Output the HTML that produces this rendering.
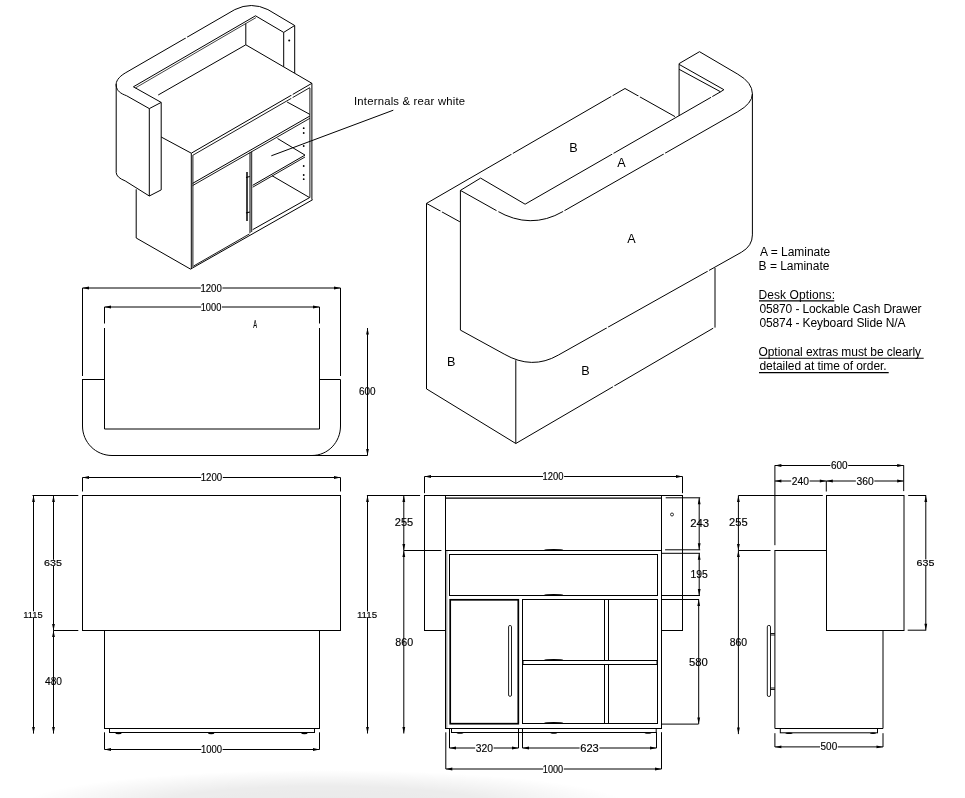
<!DOCTYPE html>
<html><head><meta charset="utf-8"><style>
html,body{margin:0;padding:0;background:#fff;}
body{width:965px;height:798px;overflow:hidden;position:relative;}
svg{position:absolute;left:0;top:0;}
text{font-family:"Liberation Sans",sans-serif;fill:#000;}
.dim{stroke:#000;stroke-width:0.15px;}
svg{will-change:transform;}
.shadow{position:absolute;left:20px;top:760px;width:610px;height:70px;
background:radial-gradient(ellipse 305px 36px at 305px 46px, rgba(0,0,0,0.085) 0%, rgba(0,0,0,0.075) 55%, rgba(0,0,0,0) 100%);}
</style></head><body>
<div class="shadow"></div>
<svg width="965" height="798" viewBox="0 0 965 798">
<path d="M125.2,73 L234.8,9.6 Q251.3,1.4 267.9,9.6 L294.7,25.5 L294.7,73" fill="none" stroke="#000" stroke-width="1"/>
<path d="M125.2,73 C118.5,77 115.5,81.5 116.2,86 C117,91 120.5,93.5 126.5,95.7 L149.3,108.6" fill="none" stroke="#000" stroke-width="1"/>
<path d="M116.2,84 L116.2,172.6 Q116.5,177.5 125.2,180.9 L149.3,196" fill="none" stroke="#000" stroke-width="1"/>
<polyline points="149.3,108.6 161.2,102.4 161.2,189.9 149.3,196 149.3,108.6" fill="none" stroke="#000" stroke-width="1"/>
<line x1="133.4" y1="86.8" x2="161.2" y2="102.4" stroke="#000" stroke-width="1" />
<line x1="133.4" y1="86.8" x2="255.5" y2="15.8" stroke="#000" stroke-width="1" />
<line x1="135.0" y1="88.2" x2="256.0" y2="17.6" stroke="#444" stroke-width="1" />
<line x1="158.2" y1="95" x2="245.8" y2="44.8" stroke="#000" stroke-width="1" />
<line x1="245.8" y1="23.5" x2="245.8" y2="44.8" stroke="#000" stroke-width="1" />
<polyline points="255.5,15.8 283.7,32.4 283.7,66.8" fill="none" stroke="#000" stroke-width="1"/>
<line x1="283.7" y1="32.4" x2="294.7" y2="25.5" stroke="#000" stroke-width="1" />
<line x1="245.8" y1="44.8" x2="311.9" y2="83.3" stroke="#000" stroke-width="1" />
<circle cx="289.2" cy="40.6" r="1" fill="#000"/>
<line x1="161.2" y1="137.0" x2="191.3" y2="153.2" stroke="#000" stroke-width="1" />
<line x1="191.3" y1="153.2" x2="311.9" y2="83.3" stroke="#000" stroke-width="1" />
<line x1="192.6" y1="155.4" x2="309.9" y2="87.6" stroke="#000" stroke-width="0.9" />
<line x1="311.9" y1="83.3" x2="311.9" y2="199.7" stroke="#000" stroke-width="1" />
<line x1="309.9" y1="88" x2="309.9" y2="197.6" stroke="#000" stroke-width="0.9" />
<line x1="191.3" y1="153.2" x2="191.3" y2="269.1" stroke="#000" stroke-width="1" />
<line x1="192.9" y1="155.4" x2="192.9" y2="267" stroke="#000" stroke-width="0.9" />
<line x1="190.5" y1="269.1" x2="312.7" y2="199.7" stroke="#000" stroke-width="1" />
<line x1="193.6" y1="266" x2="249.5" y2="233.9" stroke="#000" stroke-width="0.9" />
<line x1="192.6" y1="183.4" x2="309.9" y2="116.0" stroke="#000" stroke-width="1" />
<line x1="192.6" y1="185.6" x2="309.9" y2="118.3" stroke="#000" stroke-width="0.9" />
<line x1="287.1" y1="102" x2="309.9" y2="114.4" stroke="#000" stroke-width="1" />
<line x1="250.0" y1="152.5" x2="250.0" y2="233.0" stroke="#000" stroke-width="1" />
<line x1="251.7" y1="151.5" x2="251.7" y2="232.0" stroke="#000" stroke-width="0.9" />
<line x1="277.5" y1="138.5" x2="305" y2="155.1" stroke="#000" stroke-width="1" />
<line x1="305" y1="155.1" x2="252.7" y2="185.3" stroke="#000" stroke-width="1" />
<line x1="305" y1="157.0" x2="252.7" y2="187.2" stroke="#000" stroke-width="0.9" />
<line x1="272" y1="175.7" x2="309.6" y2="197.6" stroke="#000" stroke-width="1" />
<line x1="252.6" y1="229.7" x2="309.6" y2="197.6" stroke="#000" stroke-width="1" />
<path d="M247.0,172 L247.0,221" fill="none" stroke="#000" stroke-width="1.5"/>
<line x1="246" y1="177.5" x2="249.8" y2="176.5" stroke="#000" stroke-width="1.2" />
<line x1="246" y1="213" x2="249.8" y2="212" stroke="#000" stroke-width="1.2" />
<circle cx="303.7" cy="128.2" r="0.9" fill="#000"/>
<circle cx="303.7" cy="133" r="0.9" fill="#000"/>
<circle cx="303.7" cy="146" r="0.9" fill="#000"/>
<circle cx="303.7" cy="166" r="0.9" fill="#000"/>
<circle cx="303.7" cy="175" r="0.9" fill="#000"/>
<circle cx="303.7" cy="179.2" r="0.9" fill="#000"/>
<polyline points="136.2,189.3 136.2,238 190.5,269.1" fill="none" stroke="#000" stroke-width="1"/>
<line x1="393.3" y1="110.2" x2="271.3" y2="155.8" stroke="#000" stroke-width="1" />
<line x1="426.5" y1="203.4" x2="426.5" y2="389.2" stroke="#000" stroke-width="1" />
<line x1="426.5" y1="203.4" x2="625" y2="88.5" stroke="#000" stroke-width="1" />
<line x1="625" y1="88.5" x2="675" y2="116.6" stroke="#000" stroke-width="1" />
<line x1="426.5" y1="203.4" x2="459.9" y2="221.8" stroke="#000" stroke-width="1" />
<line x1="460.4" y1="190.4" x2="460.4" y2="330.1" stroke="#000" stroke-width="1" />
<polyline points="460.4,190.4 480.6,178.1 525.1,204.2 720.6,91.8" fill="none" stroke="#000" stroke-width="1"/>
<line x1="679.1" y1="64.4" x2="723.9" y2="89.7" stroke="#000" stroke-width="1" />
<line x1="679.1" y1="69.3" x2="720.6" y2="91.8" stroke="#000" stroke-width="1" />
<line x1="723.9" y1="89.7" x2="720.6" y2="91.8" stroke="#000" stroke-width="1" />
<line x1="679.1" y1="63.6" x2="679.1" y2="115.8" stroke="#000" stroke-width="1" />
<line x1="679.1" y1="63.6" x2="699.5" y2="51.7" stroke="#000" stroke-width="1" />
<path d="M699.5,51.7 L737.8,74.2 Q752.4,82.6 752.4,93.8 L752.4,234.9 Q752.4,245.9 741.5,252.2 L558.3,355.1 Q532.1,370.2 504.2,354.1 L460.4,330.1" fill="none" stroke="#000" stroke-width="1"/>
<path d="M460.4,190.4 L496.6,210.7 Q530.5,230.3 563,211.5 L737.8,111.7 Q752.4,103.3 752.4,93.8" fill="none" stroke="#000" stroke-width="1"/>
<line x1="515.8" y1="360.2" x2="515.8" y2="443.5" stroke="#000" stroke-width="1" />
<line x1="427" y1="389.2" x2="515.8" y2="443.5" stroke="#000" stroke-width="1" />
<line x1="515.8" y1="443.5" x2="713.2" y2="328.2" stroke="#000" stroke-width="1" />
<line x1="715" y1="268" x2="715" y2="327.6" stroke="#000" stroke-width="1" />
<line x1="759" y1="300.9" x2="834.3" y2="300.9" stroke="#000" stroke-width="1.1" />
<line x1="759" y1="358.3" x2="923.7" y2="358.3" stroke="#000" stroke-width="1.1" />
<line x1="759" y1="372.6" x2="888.7" y2="372.6" stroke="#000" stroke-width="1.1" />
<line x1="82.5" y1="288" x2="82.5" y2="376" stroke="#000" stroke-width="1" />
<line x1="340.5" y1="288" x2="340.5" y2="376" stroke="#000" stroke-width="1" />
<line x1="82.5" y1="288" x2="200.8" y2="288" stroke="#000" stroke-width="1" />
<line x1="222.4" y1="288" x2="340.5" y2="288" stroke="#000" stroke-width="1" />
<polygon points="82.5,288 89.0,286.6 89.0,289.4" fill="#000" stroke="none"/>
<polygon points="340.5,288 334.0,289.4 334.0,286.6" fill="#000" stroke="none"/>
<line x1="104.5" y1="307" x2="104.5" y2="323.5" stroke="#000" stroke-width="1" />
<line x1="319.5" y1="307" x2="319.5" y2="323.5" stroke="#000" stroke-width="1" />
<line x1="104.5" y1="307" x2="201.1" y2="307" stroke="#000" stroke-width="1" />
<line x1="221.9" y1="307" x2="319.5" y2="307" stroke="#000" stroke-width="1" />
<polygon points="104.5,307 111.0,305.6 111.0,308.4" fill="#000" stroke="none"/>
<polygon points="319.5,307 313.0,308.4 313.0,305.6" fill="#000" stroke="none"/>
<path d="M82,379.5 L104.5,379.5 M104.5,328 L104.5,429 L319.5,429 L319.5,328 M319.5,379.5 L340.5,379.5" fill="none" stroke="#000" stroke-width="1"/>
<path d="M82.5,379.5 L82.5,426 C82.5,442.3 95.7,455.5 112,455.5 L312,455.5 C327.8,455.5 340.5,442.3 340.5,426 L340.5,379.5" fill="none" stroke="#000" stroke-width="1"/>
<line x1="312" y1="455.5" x2="367.5" y2="455.5" stroke="#000" stroke-width="1" />
<line x1="367.5" y1="328" x2="367.5" y2="455.5" stroke="#000" stroke-width="1" />
<polygon points="367.5,328 368.9,334.5 366.1,334.5" fill="#000" stroke="none"/>
<polygon points="367.5,455.5 366.1,449.0 368.9,449.0" fill="#000" stroke="none"/>
<line x1="82.5" y1="477.5" x2="82.5" y2="491.5" stroke="#000" stroke-width="1" />
<line x1="340.5" y1="477.5" x2="340.5" y2="491.5" stroke="#000" stroke-width="1" />
<line x1="82.5" y1="477.5" x2="201.1" y2="477.5" stroke="#000" stroke-width="1" />
<line x1="222.79999999999998" y1="477.5" x2="340.5" y2="477.5" stroke="#000" stroke-width="1" />
<polygon points="82.5,477.5 89.0,476.1 89.0,478.9" fill="#000" stroke="none"/>
<polygon points="340.5,477.5 334.0,478.9 334.0,476.1" fill="#000" stroke="none"/>
<rect x="82.5" y="495.5" width="258" height="135" fill="none" stroke="#000"/>
<rect x="104.5" y="630.5" width="215" height="98" fill="none" stroke="#000"/>
<rect x="109.5" y="728.5" width="205" height="4" fill="none" stroke="#000"/>
<ellipse cx="118.5" cy="733.3" rx="3.2" ry="0.9" fill="#000"/>
<ellipse cx="211.2" cy="733.3" rx="3.2" ry="0.9" fill="#000"/>
<ellipse cx="304.4" cy="733.3" rx="3.2" ry="0.9" fill="#000"/>
<line x1="32.5" y1="495.5" x2="78.3" y2="495.5" stroke="#000" stroke-width="1" />
<line x1="53.5" y1="630.5" x2="78.3" y2="630.5" stroke="#000" stroke-width="1" />
<line x1="33.5" y1="495.5" x2="33.5" y2="733.6" stroke="#000" stroke-width="1" />
<polygon points="33.5,495.5 34.9,502.0 32.1,502.0" fill="#000" stroke="none"/>
<polygon points="33.5,733.6 32.1,727.1 34.9,727.1" fill="#000" stroke="none"/>
<line x1="53.5" y1="495.5" x2="53.5" y2="630.5" stroke="#000" stroke-width="1" />
<polygon points="53.5,495.5 54.9,502.0 52.1,502.0" fill="#000" stroke="none"/>
<polygon points="53.5,630.5 52.1,624.0 54.9,624.0" fill="#000" stroke="none"/>
<line x1="53.5" y1="630.5" x2="53.5" y2="733.6" stroke="#000" stroke-width="1" />
<polygon points="53.5,630.5 54.9,637.0 52.1,637.0" fill="#000" stroke="none"/>
<polygon points="53.5,733.6 52.1,727.1 54.9,727.1" fill="#000" stroke="none"/>
<line x1="104.5" y1="732.3" x2="104.5" y2="749.5" stroke="#000" stroke-width="1" />
<line x1="319.5" y1="732.3" x2="319.5" y2="749.5" stroke="#000" stroke-width="1" />
<line x1="104.5" y1="749.5" x2="201.3" y2="749.5" stroke="#000" stroke-width="1" />
<line x1="222.6" y1="749.5" x2="319.5" y2="749.5" stroke="#000" stroke-width="1" />
<polygon points="104.5,749.5 111.0,748.1 111.0,750.9" fill="#000" stroke="none"/>
<polygon points="319.5,749.5 313.0,750.9 313.0,748.1" fill="#000" stroke="none"/>
<line x1="424.5" y1="476.5" x2="424.5" y2="493.2" stroke="#000" stroke-width="1" />
<line x1="682.5" y1="476.5" x2="682.5" y2="493.2" stroke="#000" stroke-width="1" />
<line x1="424.5" y1="476.5" x2="543.0" y2="476.5" stroke="#000" stroke-width="1" />
<line x1="564.1" y1="476.5" x2="682.5" y2="476.5" stroke="#000" stroke-width="1" />
<polygon points="424.5,476.5 431.0,475.1 431.0,477.9" fill="#000" stroke="none"/>
<polygon points="682.5,476.5 676.0,477.9 676.0,475.1" fill="#000" stroke="none"/>
<rect x="424.5" y="495.5" width="21" height="135" fill="none" stroke="#000"/>
<rect x="661.5" y="495.5" width="21" height="135" fill="none" stroke="#000"/>
<circle cx="672" cy="514.5" r="1.5" fill="none" stroke="#000" stroke-width="0.8"/>
<line x1="445.5" y1="495.5" x2="661.5" y2="495.5" stroke="#000" stroke-width="1" />
<line x1="445.5" y1="498.2" x2="661.5" y2="498.2" stroke="#000" stroke-width="1.3" />
<rect x="445.5" y="550.5" width="216" height="178" fill="none" stroke="#000"/>
<line x1="446.8" y1="551" x2="446.8" y2="728" stroke="#888" stroke-width="1" />
<rect x="449.5" y="554.5" width="208" height="41" fill="none" stroke="#000"/>
<rect x="450.2" y="599.8" width="68.1" height="123.9" fill="none" stroke="#000" stroke-width="1.7"/>
<rect x="508.6" y="625.5" width="2.9" height="70.8" rx="1.3" fill="none" stroke="#000" stroke-width="0.9"/>
<rect x="522.5" y="599.5" width="135" height="124" fill="none" stroke="#000"/>
<line x1="604.5" y1="599.5" x2="604.5" y2="723.5" stroke="#000" stroke-width="1" />
<line x1="608.5" y1="599.5" x2="608.5" y2="723.5" stroke="#000" stroke-width="1" />
<rect x="523" y="660.5" width="134" height="4" fill="#fff" stroke="#000"/>
<ellipse cx="553.7" cy="549.9" rx="9.5" ry="0.9" fill="#000"/>
<ellipse cx="553.7" cy="594.9" rx="9.5" ry="0.9" fill="#000"/>
<ellipse cx="553.7" cy="659.9" rx="9.5" ry="0.9" fill="#000"/>
<ellipse cx="553.7" cy="722.9" rx="9.5" ry="0.9" fill="#000"/>
<rect x="451.5" y="728.5" width="204.7" height="4" fill="none" stroke="#000"/>
<ellipse cx="460" cy="733" rx="3.4" ry="0.8" fill="#000"/>
<ellipse cx="553.8" cy="733" rx="3.4" ry="0.8" fill="#000"/>
<ellipse cx="648" cy="733" rx="3.4" ry="0.8" fill="#000"/>
<line x1="366.9" y1="495.5" x2="420.1" y2="495.5" stroke="#000" stroke-width="1" />
<line x1="403.8" y1="550.5" x2="441.4" y2="550.5" stroke="#000" stroke-width="1" />
<line x1="367.5" y1="495.5" x2="367.5" y2="733.5" stroke="#000" stroke-width="1" />
<polygon points="367.5,495.5 368.9,502.0 366.1,502.0" fill="#000" stroke="none"/>
<polygon points="367.5,733.5 366.1,727.0 368.9,727.0" fill="#000" stroke="none"/>
<line x1="403.8" y1="495.5" x2="403.8" y2="550.5" stroke="#000" stroke-width="1" />
<polygon points="403.8,495.5 405.2,502.0 402.4,502.0" fill="#000" stroke="none"/>
<polygon points="403.8,550.5 402.4,544.0 405.2,544.0" fill="#000" stroke="none"/>
<line x1="403.8" y1="550.5" x2="403.8" y2="733.5" stroke="#000" stroke-width="1" />
<polygon points="403.8,550.5 405.2,557.0 402.4,557.0" fill="#000" stroke="none"/>
<polygon points="403.8,733.5 402.4,727.0 405.2,727.0" fill="#000" stroke="none"/>
<line x1="665.7" y1="497.8" x2="700.2" y2="497.8" stroke="#000" stroke-width="1" />
<line x1="665.1" y1="549.8" x2="700.2" y2="549.8" stroke="#000" stroke-width="1" />
<line x1="699.2" y1="497.8" x2="699.2" y2="549.8" stroke="#000" stroke-width="1" />
<polygon points="699.2,497.8 700.6,504.3 697.8,504.3" fill="#000" stroke="none"/>
<polygon points="699.2,549.8 697.8,543.3 700.6,543.3" fill="#000" stroke="none"/>
<line x1="662" y1="553.3" x2="700" y2="553.3" stroke="#000" stroke-width="1" />
<line x1="662" y1="595.5" x2="700" y2="595.5" stroke="#000" stroke-width="1" />
<line x1="699.2" y1="553.3" x2="699.2" y2="595.5" stroke="#000" stroke-width="1" />
<polygon points="699.2,553.3 700.6,559.8 697.8,559.8" fill="#000" stroke="none"/>
<polygon points="699.2,595.5 697.8,589.0 700.6,589.0" fill="#000" stroke="none"/>
<line x1="662" y1="599.5" x2="699" y2="599.5" stroke="#000" stroke-width="1" />
<line x1="662" y1="724.1" x2="698.5" y2="724.1" stroke="#000" stroke-width="1" />
<line x1="698.7" y1="599.5" x2="698.7" y2="724.1" stroke="#000" stroke-width="1" />
<polygon points="698.7,599.5 700.1,606.0 697.3,606.0" fill="#000" stroke="none"/>
<polygon points="698.7,724.1 697.3,717.6 700.1,717.6" fill="#000" stroke="none"/>
<line x1="449.5" y1="729" x2="449.5" y2="748" stroke="#000" stroke-width="1" />
<line x1="518.5" y1="729" x2="518.5" y2="748" stroke="#000" stroke-width="1" />
<line x1="449.5" y1="748" x2="475.2" y2="748" stroke="#000" stroke-width="1" />
<line x1="493.6" y1="748" x2="518.5" y2="748" stroke="#000" stroke-width="1" />
<polygon points="449.5,748 456.0,746.6 456.0,749.4" fill="#000" stroke="none"/>
<polygon points="518.5,748 512.0,749.4 512.0,746.6" fill="#000" stroke="none"/>
<line x1="522.5" y1="729" x2="522.5" y2="748" stroke="#000" stroke-width="1" />
<line x1="656.5" y1="732.2" x2="656.5" y2="748" stroke="#000" stroke-width="1" />
<line x1="522.5" y1="748" x2="579.6" y2="748" stroke="#000" stroke-width="1" />
<line x1="599.4" y1="748" x2="656.5" y2="748" stroke="#000" stroke-width="1" />
<polygon points="522.5,748 529.0,746.6 529.0,749.4" fill="#000" stroke="none"/>
<polygon points="656.5,748 650.0,749.4 650.0,746.6" fill="#000" stroke="none"/>
<line x1="445.8" y1="732.3" x2="445.8" y2="769" stroke="#000" stroke-width="1" />
<line x1="661.5" y1="732.2" x2="661.5" y2="769" stroke="#000" stroke-width="1" />
<line x1="445.8" y1="769" x2="543.1999999999999" y2="769" stroke="#000" stroke-width="1" />
<line x1="563.8000000000001" y1="769" x2="661.5" y2="769" stroke="#000" stroke-width="1" />
<polygon points="445.8,769 452.3,767.6 452.3,770.4" fill="#000" stroke="none"/>
<polygon points="661.5,769 655.0,770.4 655.0,767.6" fill="#000" stroke="none"/>
<line x1="774.9" y1="465.3" x2="774.9" y2="545.2" stroke="#000" stroke-width="1" />
<line x1="903.7" y1="465.3" x2="903.7" y2="491.1" stroke="#000" stroke-width="1" />
<line x1="774.9" y1="465.5" x2="830.4" y2="465.5" stroke="#000" stroke-width="1" />
<line x1="848.2" y1="465.5" x2="903.7" y2="465.5" stroke="#000" stroke-width="1" />
<polygon points="774.9,465.5 781.4,464.1 781.4,466.9" fill="#000" stroke="none"/>
<polygon points="903.7,465.5 897.2,466.9 897.2,464.1" fill="#000" stroke="none"/>
<line x1="826.3" y1="481" x2="826.3" y2="491.5" stroke="#000" stroke-width="1" />
<line x1="774.9" y1="481" x2="791.1999999999999" y2="481" stroke="#000" stroke-width="1" />
<line x1="809.6" y1="481" x2="826.3" y2="481" stroke="#000" stroke-width="1" />
<polygon points="774.9,481 781.4,479.6 781.4,482.4" fill="#000" stroke="none"/>
<polygon points="826.3,481 819.8,482.4 819.8,479.6" fill="#000" stroke="none"/>
<line x1="826.3" y1="481" x2="855.9" y2="481" stroke="#000" stroke-width="1" />
<line x1="874.3000000000001" y1="481" x2="903.7" y2="481" stroke="#000" stroke-width="1" />
<polygon points="826.3,481 832.8,479.6 832.8,482.4" fill="#000" stroke="none"/>
<polygon points="903.7,481 897.2,482.4 897.2,479.6" fill="#000" stroke="none"/>
<rect x="826.5" y="495.5" width="77.5" height="135" fill="none" stroke="#000"/>
<line x1="738.4" y1="495.5" x2="822.8" y2="495.5" stroke="#000" stroke-width="1" />
<line x1="738.4" y1="550.5" x2="770.5" y2="550.5" stroke="#000" stroke-width="1" />
<line x1="774.9" y1="550.5" x2="826.5" y2="550.5" stroke="#000" stroke-width="1" />
<path d="M774.9,550 L774.9,728.5 L883,728.5 L883,630.2" fill="none" stroke="#000" stroke-width="1"/>
<rect x="780.3" y="728.5" width="97.2" height="4.3" fill="none" stroke="#000"/>
<ellipse cx="789" cy="733.3" rx="3.6" ry="0.8" fill="#000"/>
<ellipse cx="873" cy="733.3" rx="3" ry="0.8" fill="#000"/>
<rect x="767.3" y="625.4" width="3.2" height="71.1" rx="1.5" fill="none" stroke="#000" stroke-width="0.9"/>
<line x1="770.5" y1="633.5" x2="774.9" y2="633.5" stroke="#000" stroke-width="0.9" />
<line x1="770.5" y1="688" x2="774.9" y2="688" stroke="#000" stroke-width="0.9" />
<line x1="770.5" y1="635" x2="774.9" y2="635" stroke="#000" stroke-width="0.9" />
<line x1="770.5" y1="689.5" x2="774.9" y2="689.5" stroke="#000" stroke-width="0.9" />
<line x1="738.4" y1="495.5" x2="738.4" y2="550.5" stroke="#000" stroke-width="1" />
<polygon points="738.4,495.5 739.8,502.0 737.0,502.0" fill="#000" stroke="none"/>
<polygon points="738.4,550.5 737.0,544.0 739.8,544.0" fill="#000" stroke="none"/>
<line x1="738.4" y1="550.5" x2="738.4" y2="734.1" stroke="#000" stroke-width="1" />
<polygon points="738.4,550.5 739.8,557.0 737.0,557.0" fill="#000" stroke="none"/>
<polygon points="738.4,734.1 737.0,727.6 739.8,727.6" fill="#000" stroke="none"/>
<line x1="908.2" y1="495.5" x2="926.1" y2="495.5" stroke="#000" stroke-width="1" />
<line x1="907.7" y1="630.2" x2="926.2" y2="630.2" stroke="#000" stroke-width="1" />
<line x1="925.8" y1="495.5" x2="925.8" y2="630.2" stroke="#000" stroke-width="1" />
<polygon points="925.8,495.5 927.2,502.0 924.4,502.0" fill="#000" stroke="none"/>
<polygon points="925.8,630.2 924.4,623.7 927.2,623.7" fill="#000" stroke="none"/>
<line x1="774.9" y1="733.2" x2="774.9" y2="747" stroke="#000" stroke-width="1" />
<line x1="883" y1="733.2" x2="883" y2="747" stroke="#000" stroke-width="1" />
<line x1="774.9" y1="746.9" x2="820.0" y2="746.9" stroke="#000" stroke-width="1" />
<line x1="837.8000000000001" y1="746.9" x2="883" y2="746.9" stroke="#000" stroke-width="1" />
<polygon points="774.9,746.9 781.4,745.5 781.4,748.3" fill="#000" stroke="none"/>
<polygon points="883,746.9 876.5,748.3 876.5,745.5" fill="#000" stroke="none"/>
<line x1="511.41" y1="154.25" x2="512.79" y2="153.45" stroke="#fff" stroke-width="2.6"/>
<line x1="611.21" y1="96.48" x2="612.59" y2="95.68" stroke="#fff" stroke-width="2.6"/>
<line x1="638.40" y1="96.03" x2="639.80" y2="96.82" stroke="#fff" stroke-width="2.6"/>
<line x1="612.11" y1="154.18" x2="613.49" y2="153.38" stroke="#fff" stroke-width="2.6"/>
<line x1="711.01" y1="97.32" x2="712.39" y2="96.52" stroke="#fff" stroke-width="2.6"/>
<line x1="440.50" y1="211.11" x2="441.90" y2="211.88" stroke="#fff" stroke-width="2.6"/>
<line x1="496.63" y1="210.72" x2="498.37" y2="211.69" stroke="#fff" stroke-width="2.6"/>
<line x1="563.11" y1="211.44" x2="564.49" y2="210.65" stroke="#fff" stroke-width="2.6"/>
<line x1="663.71" y1="154.00" x2="665.09" y2="153.21" stroke="#fff" stroke-width="2.6"/>
<line x1="709.00" y1="270.46" x2="707.60" y2="271.24" stroke="#fff" stroke-width="2.6"/>
<line x1="608.10" y1="327.13" x2="606.70" y2="327.91" stroke="#fff" stroke-width="2.6"/>
<line x1="613.01" y1="386.72" x2="614.39" y2="385.91" stroke="#fff" stroke-width="2.6"/>
<line x1="185.71" y1="38.00" x2="187.09" y2="37.20" stroke="#fff" stroke-width="2.6"/>
<line x1="291.31" y1="98.35" x2="292.69" y2="97.55" stroke="#fff" stroke-width="2.6"/>
<line x1="291.31" y1="95.24" x2="292.69" y2="94.43" stroke="#fff" stroke-width="2.6"/>
<text x="354.00" y="104.90" font-size="11.3" textLength="111.10" lengthAdjust="spacing" class="lbl">Internals &amp; rear white</text>
<text x="569.30" y="152.40" font-size="12.6" textLength="18.30" lengthAdjust="spacing" class="lbl">B</text>
<text x="617.20" y="166.90" font-size="12.6" textLength="-1.30" lengthAdjust="spacing" class="lbl">A</text>
<text x="627.30" y="242.50" font-size="12.6" textLength="-1.30" lengthAdjust="spacing" class="lbl">A</text>
<text x="447.10" y="365.90" font-size="12.6" textLength="3.60" lengthAdjust="spacing" class="lbl">B</text>
<text x="581.30" y="375.30" font-size="12.6" textLength="1.50" lengthAdjust="spacing" class="lbl">B</text>
<text x="760.10" y="255.80" font-size="12" textLength="70.10" lengthAdjust="spacing" class="lbl">A = Laminate</text>
<text x="758.60" y="269.60" font-size="12" textLength="70.80" lengthAdjust="spacing" class="lbl">B = Laminate</text>
<text x="758.40" y="298.70" font-size="12" textLength="76.60" lengthAdjust="spacing" class="lbl">Desk Options:</text>
<text x="759.40" y="312.80" font-size="12" textLength="162.10" lengthAdjust="spacing" class="lbl">05870 - Lockable Cash Drawer</text>
<text x="759.40" y="326.90" font-size="12" textLength="146.20" lengthAdjust="spacing" class="lbl">05874 - Keyboard Slide N/A</text>
<text x="758.50" y="355.90" font-size="12" textLength="162.50" lengthAdjust="spacing" class="lbl">Optional extras must be clearly</text>
<text x="759.50" y="369.90" font-size="12" textLength="127.10" lengthAdjust="spacing" class="lbl">detailed at time of order.</text>
<text x="200.40" y="292.00" font-size="10.6" textLength="21.40" lengthAdjust="spacingAndGlyphs" class="dim">1200</text>
<text x="200.70" y="310.80" font-size="10.6" textLength="20.60" lengthAdjust="spacingAndGlyphs" class="dim">1000</text>
<text x="359.00" y="395.00" font-size="10.6" textLength="16.60" lengthAdjust="spacingAndGlyphs" class="dim">600</text>
<text x="253.20" y="327.70" font-size="10" textLength="3.80" lengthAdjust="spacingAndGlyphs" class="dim">A</text>
<text x="200.70" y="481.30" font-size="10.6" textLength="21.50" lengthAdjust="spacingAndGlyphs" class="dim">1200</text>
<rect x="23.9" y="611.3" width="19.100000000000005" height="6.600000000000023" fill="#fff"/><text x="23.20" y="618.10" font-size="9.2" textLength="19.50" lengthAdjust="spacingAndGlyphs" class="dim">1115</text>
<rect x="43.6" y="559.8" width="18.6" height="6.2000000000000455" fill="#fff"/><text x="43.90" y="566.00" font-size="9" textLength="18.00" lengthAdjust="spacingAndGlyphs" class="dim">635</text>
<text x="45.00" y="685.40" font-size="10.6" textLength="17.00" lengthAdjust="spacingAndGlyphs" class="dim">480</text>
<text x="200.90" y="753.00" font-size="10.6" textLength="21.10" lengthAdjust="spacingAndGlyphs" class="dim">1000</text>
<text x="542.60" y="480.40" font-size="10.6" textLength="20.90" lengthAdjust="spacingAndGlyphs" class="dim">1200</text>
<rect x="357.59999999999997" y="611.5" width="19.900000000000013" height="6.399999999999977" fill="#fff"/><text x="356.90" y="618.10" font-size="9.2" textLength="20.30" lengthAdjust="spacingAndGlyphs" class="dim">1115</text>
<text x="394.80" y="525.80" font-size="10.6" textLength="18.40" lengthAdjust="spacingAndGlyphs" class="dim">255</text>
<text x="395.30" y="645.60" font-size="10.6" textLength="17.90" lengthAdjust="spacingAndGlyphs" class="dim">860</text>
<text x="690.20" y="527.00" font-size="10.6" textLength="19.00" lengthAdjust="spacingAndGlyphs" class="dim">243</text>
<text x="690.40" y="577.70" font-size="10.6" textLength="17.30" lengthAdjust="spacingAndGlyphs" class="dim">195</text>
<text x="688.90" y="665.80" font-size="10.6" textLength="18.90" lengthAdjust="spacingAndGlyphs" class="dim">580</text>
<text x="475.80" y="751.60" font-size="10.6" textLength="17.20" lengthAdjust="spacingAndGlyphs" class="dim">320</text>
<text x="580.20" y="751.80" font-size="10.6" textLength="18.60" lengthAdjust="spacingAndGlyphs" class="dim">623</text>
<text x="542.80" y="772.80" font-size="10.6" textLength="20.40" lengthAdjust="spacingAndGlyphs" class="dim">1000</text>
<text x="831.00" y="469.40" font-size="10.6" textLength="16.60" lengthAdjust="spacingAndGlyphs" class="dim">600</text>
<text x="791.80" y="484.90" font-size="10.6" textLength="17.20" lengthAdjust="spacingAndGlyphs" class="dim">240</text>
<text x="856.50" y="484.90" font-size="10.6" textLength="17.20" lengthAdjust="spacingAndGlyphs" class="dim">360</text>
<text x="729.10" y="525.80" font-size="10.6" textLength="18.60" lengthAdjust="spacingAndGlyphs" class="dim">255</text>
<text x="729.70" y="645.60" font-size="10.6" textLength="17.50" lengthAdjust="spacingAndGlyphs" class="dim">860</text>
<rect x="916.2" y="559.5" width="18.49999999999998" height="6.5" fill="#fff"/><text x="916.50" y="566.00" font-size="9" textLength="17.90" lengthAdjust="spacingAndGlyphs" class="dim">635</text>
<text x="820.60" y="750.30" font-size="10.6" textLength="16.60" lengthAdjust="spacingAndGlyphs" class="dim">500</text>
</svg>
</body></html>
